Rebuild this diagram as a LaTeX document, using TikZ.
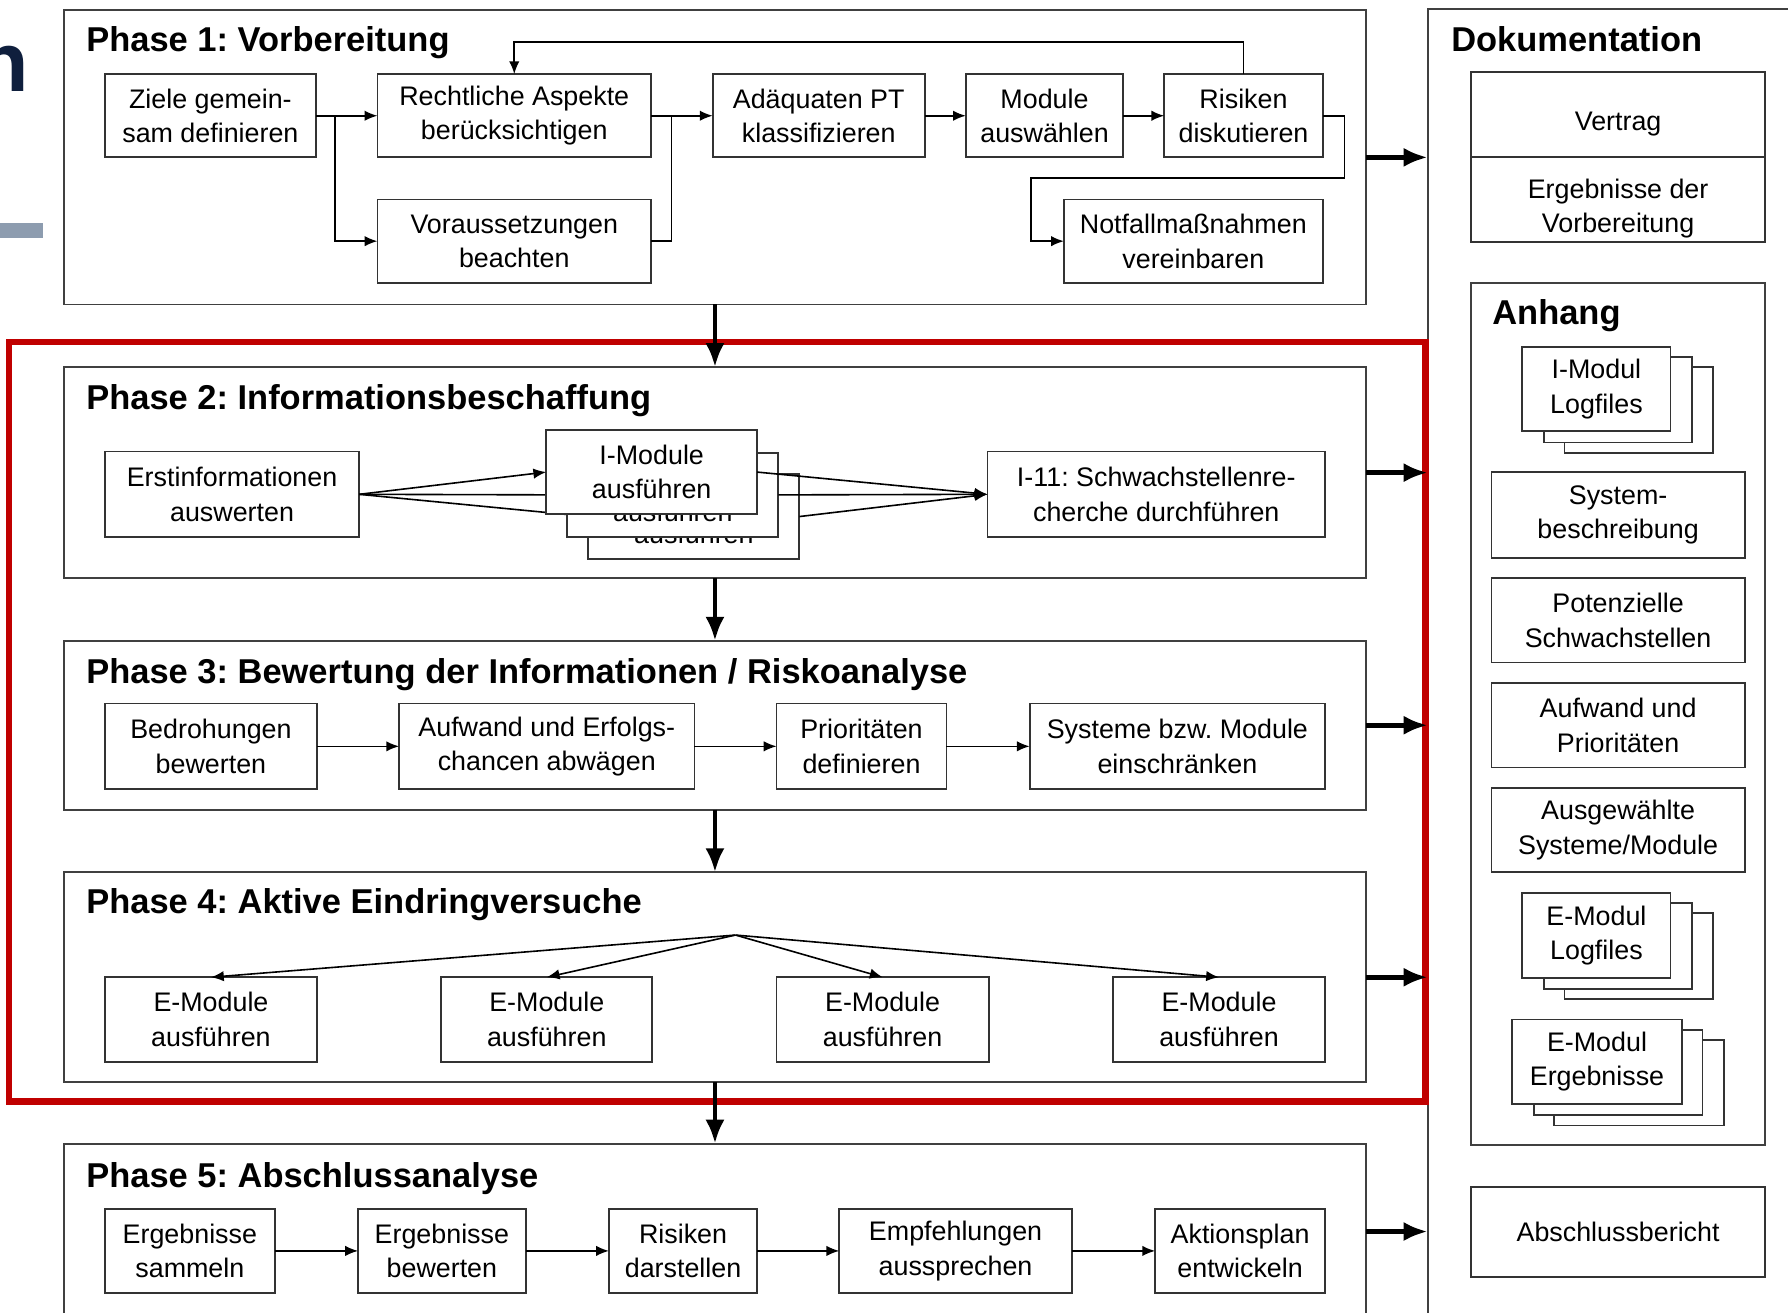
\documentclass[tikz,border=0pt]{standalone}
\usepackage{fontspec}
\setmainfont{Liberation Sans}
\usetikzlibrary{arrows.meta,calc,fit}
\definecolor{navy}{HTML}{0F1F3D}
\definecolor{barc}{HTML}{8D9CAF}
\definecolor{hl}{HTML}{C00000}
\frenchspacing
\newcommand\mybox[6]{\pgfmathsetmacro\myW{(#4-#2)*0.1}\pgfmathsetmacro\myH{(#5-#3)*0.1}%
  \node[box,minimum width=\myW mm,minimum height=\myH mm] (#1) at ({(#2+#4)/2},{(#3+#5)/2}) {#6};}
\newcommand\myframe[5]{\node[frame, fit={(#2,#3) (#4,#5)}] (#1) {};}
\begin{document}
\begin{tikzpicture}[x=0.1mm,y=-0.1mm,
 box/.style={draw=black!80,line width=0.45pt,fill=white,inner sep=0pt,outer sep=0pt,align=center,font=\fontsize{6.7}{8.6}\selectfont},
 frame/.style={draw=black!75,line width=0.45pt,inner sep=0pt,outer sep=0pt},
 ttl/.style={anchor=base west,inner sep=0pt,font=\bfseries\fontsize{8.6}{10}\selectfont},
 con/.style={draw=black,line width=0.4pt,-{Latex[length=3.2pt,width=2.6pt]}},
 ln/.style={draw=black,line width=0.4pt},
 big/.style={draw=black,line width=1.2pt,-{Latex[length=6pt,width=4.8pt]}},
 hlbox/.style={draw=hl,line width=1.6pt,inner sep=0pt,outer sep=0pt}]
\useasboundingbox (0,0) rectangle (1568,1151);
\clip (0,0) rectangle (1568,1151);
\fill[white] (0,0) rectangle (1568,1151);

% fragments at the left edge
\node[anchor=base east,inner sep=0pt,text=navy,font=\bfseries\fontsize{21}{21}\selectfont] (frag) at (26,80) {n};
\node[fill=barc,inner sep=0pt,fit={(0,196) (38,209)}] (bar) {};

% phase frames
\myframe{p1}{56}{9}{1198}{267}
\myframe{p2}{56}{322}{1198}{507}
\myframe{p3}{56}{562}{1198}{710}
\myframe{p4}{56}{765}{1198}{949}
\myframe{p5}{56}{1003}{1198}{1153}
\myframe{doku}{1252}{8}{1590}{1180}
\myframe{anh}{1290}{248}{1548}{1004}

\node[ttl] (t1) at (75,45) {Phase 1: Vorbereitung};
\node[ttl] (t2) at (75,359) {Phase 2: Informationsbeschaffung};
\node[ttl] (t3) at (75,599) {Phase 3: Bewertung der Informationen / Riskoanalyse};
\node[ttl] (t4) at (75,801) {Phase 4: Aktive Eindringversuche};
\node[ttl] (t5) at (75,1041) {Phase 5: Abschlussanalyse};
\node[ttl] (td) at (1272,45) {Dokumentation};
\node[ttl] (ta) at (1308,285) {Anhang};

% red highlight
\node[hlbox,fit={(8,300) (1250,966)}] (focus) {};

% Phase 1
\mybox{ziele}{92}{65}{277}{138}{Ziele gemein-\\sam definieren}
\mybox{rechts}{331}{65}{571}{138}{Rechtliche Aspekte\\berücksichtigen}
\mybox{vor}{331}{175}{571}{248}{Voraussetzungen\\beachten}
\mybox{adq}{625}{65}{811}{138}{Adäquaten PT\\klassifizieren}
\mybox{mod}{847}{65}{985}{138}{Module\\auswählen}
\mybox{ris}{1021}{65}{1160}{138}{Risiken\\diskutieren}
\mybox{notf}{933}{175}{1160}{248}{Notfallmaßnahmen\\vereinbaren}
\coordinate (j1) at ($(ziele.east)+(17,0)$);
\coordinate (j2) at ($(rechts.east)+(18,0)$);
\coordinate (k) at (904,156);
\draw[con] (ziele.east) -- (rechts.west);
\draw[con] (j1) |- (vor.west);
\draw[ln] (vor.east) -| (j2);
\draw[con] (rechts.east) -- (adq.west);
\draw[con] (adq.east) -- (mod.west);
\draw[con] (mod.east) -- (ris.west);
\draw[con] (ris.north) -- ++(0,-28) -| (rechts.north);
\draw[con] (ris.east) -- ++(19,0) |- (k) |- (notf.west);

% Phase 2
\mybox{erst}{92}{396}{315}{471}{Erstinformationen\\auswerten}
\coordinate (i3w) at (516,453);
\coordinate (i2w) at (497.5,434);
\draw[ln] (erst.east) -- (i3w);
\draw[ln] (erst.east) -- (i2w);
\mybox{im3}{516}{416}{701}{490}{I-Module\\ausführen}
\mybox{im2}{497.5}{397}{682.5}{471}{I-Module\\ausführen}
\mybox{im1}{479}{377}{664}{451}{I-Module\\ausführen}
\draw[con] (erst.east) -- (im1.west);
\mybox{isch}{866}{396}{1162}{471}{I-11: Schwachstellenre-\\cherche durchführen}
\draw[con] (im1.east) -- (isch.west);
\draw[con] (im2.east) -- (isch.west);
\draw[con] (im3.east) -- (isch.west);

% Phase 3
\mybox{bedr}{92}{617}{278}{692}{Bedrohungen\\bewerten}
\mybox{aufw}{350}{617}{609}{692}{Aufwand und Erfolgs-\\chancen abwägen}
\mybox{prio}{681}{617}{830}{692}{Prioritäten\\definieren}
\mybox{syst}{903}{617}{1162}{692}{Systeme bzw. Module\\einschränken}
\draw[con] (bedr.east) -- (aufw.west);
\draw[con] (aufw.east) -- (prio.west);
\draw[con] (prio.east) -- (syst.west);

% Phase 4
\mybox{ea}{92}{857}{278}{931}{E-Module\\ausführen}
\mybox{eb}{387}{857}{572}{931}{E-Module\\ausführen}
\mybox{ec}{681}{857}{867}{931}{E-Module\\ausführen}
\mybox{ed}{976}{857}{1162}{931}{E-Module\\ausführen}
\coordinate (fan) at (645,820);
\draw[con] (fan) -- (ea.north);
\draw[con] (fan) -- (eb.north);
\draw[con] (fan) -- (ec.north);
\draw[con] (fan) -- (ed.north);

% Phase 5
\mybox{samm}{92}{1060}{241}{1134}{Ergebnisse\\sammeln}
\mybox{bew}{314}{1060}{461}{1134}{Ergebnisse\\bewerten}
\mybox{darst}{534}{1060}{664}{1134}{Risiken\\darstellen}
\mybox{empf}{736}{1060}{940}{1134}{Empfehlungen\\aussprechen}
\mybox{akt}{1013}{1060}{1162}{1134}{Aktionsplan\\entwickeln}
\draw[con] (samm.east) -- (bew.west);
\draw[con] (bew.east) -- (darst.west);
\draw[con] (darst.east) -- (empf.west);
\draw[con] (empf.east) -- (akt.west);

% Dokumentation
\mybox{vertrag}{1290}{63}{1548}{138}{\raisebox{-1.4mm}[0pt][0pt]{Vertrag}}
\mybox{ergv}{1290}{138}{1548}{212}{\raisebox{-1.4mm}[0pt][0pt]{\begin{tabular}{@{}c@{}}Ergebnisse der\\Vorbereitung\end{tabular}}}
\mybox{il3}{1372}{322}{1502}{397}{}
\mybox{il2}{1354}{313}{1484}{388}{}
\mybox{il1}{1335}{304}{1465}{378}{I-Modul\\Logfiles}
\mybox{sysb}{1308}{414}{1530}{489}{System-\\beschreibung}
\mybox{pots}{1308}{507}{1530}{581}{Potenzielle\\Schwachstellen}
\mybox{aufp}{1308}{599}{1530}{673}{Aufwand und\\Prioritäten}
\mybox{ausg}{1308}{691}{1530}{765}{Ausgewählte\\Systeme/Module}
\mybox{el3}{1372}{801}{1502}{876}{}
\mybox{el2}{1354}{792}{1484}{867}{}
\mybox{el1}{1335}{783}{1465}{858}{E-Modul\\Logfiles}
\mybox{ee3}{1363}{912}{1512}{987}{}
\mybox{ee2}{1345}{903}{1493}{978}{}
\mybox{ee1}{1326}{894}{1475}{968}{E-Modul\\Ergebnisse}
\mybox{absb}{1290}{1041}{1548}{1120}{Abschlussbericht}

% thick arrows
\draw[big] (p1.south) -- (p2.north);
\draw[big] (p2.south) -- (p3.north);
\draw[big] (p3.south) -- (p4.north);
\draw[big] (p4.south) -- (p5.north);
\draw[big] (p1.east) -- (p1.east -| doku.west);
\draw[big] (p2.east) -- (p2.east -| doku.west);
\draw[big] (p3.east) -- (p3.east -| doku.west);
\draw[big] (p4.east) -- (p4.east -| doku.west);
\draw[big] ($(p5.east)+(0,2)$) -- ($(p5.east -| doku.west)+(0,2)$);
\end{tikzpicture}
\end{document}
